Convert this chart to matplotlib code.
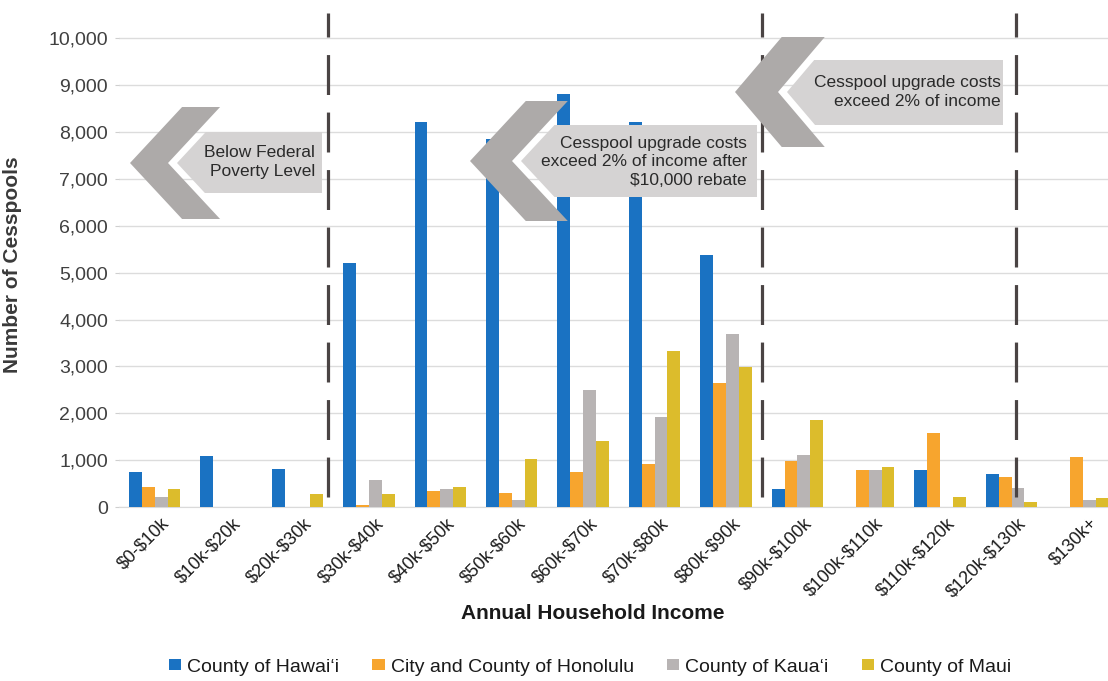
import matplotlib
matplotlib.use('Agg')
import matplotlib.pyplot as plt
import numpy as np
from matplotlib.patches import Polygon
from matplotlib.ticker import FuncFormatter
import matplotlib.transforms as mtransforms

# ---------------- data ----------------
categories = ['$0-$10k', '$10k-$20k', '$20k-$30k', '$30k-$40k', '$40k-$50k',
              '$50k-$60k', '$60k-$70k', '$70k-$80k', '$80k-$90k', '$90k-$100k',
              '$100k-$110k', '$110k-$120k', '$120k-$130k', '$130k+']
hawaii = [750, 1080, 820, 5200, 8210, 7850, 8810, 8220, 5370, 375, 0, 780, 700, 0]
honolulu = [430, 0, 0, 50, 350, 305, 750, 925, 2640, 975, 785, 1580, 645, 1070]
kauai = [220, 0, 0, 575, 375, 160, 2490, 1920, 3690, 1100, 790, 0, 400, 140]
maui = [375, 0, 270, 270, 430, 1030, 1400, 3320, 2980, 1850, 855, 220, 100, 200]
series_names = ["County of Hawai\u02bbi", "City and County of Honolulu",
                "County of Kaua\u02bbi", "County of Maui"]
y_ticks = list(range(0, 10001, 1000))
divider_positions = [2.42, 8.5, 12.06]
annotation_texts = ["Below Federal\nPoverty Level",
                    "Cesspool upgrade costs\nexceed 2% of income after\n$10,000 rebate",
                    "Cesspool upgrade costs\nexceed 2% of income"]

# ---------------- style ----------------
plt.rcParams['font.family'] = ['Liberation Sans', 'DejaVu Sans']
colors = ['#1a72c2', '#f7a52e', '#b8b4b4', '#dcbc2c']
W, H = 1108, 681

fig = plt.figure(figsize=(W / 100, H / 100), dpi=100)
fig.patch.set_facecolor('white')

ax_left, ax_right, ax_bottom, ax_top = 119, 1108, 507, 12.5
ax = fig.add_axes([ax_left / W, 1 - ax_bottom / H, (ax_right - ax_left) / W,
                   (ax_bottom - ax_top) / H])

series = [hawaii, honolulu, kauai, maui]
x = np.arange(len(categories))
bw = 0.18
for i, (vals, name, c) in enumerate(zip(series, series_names, colors)):
    ax.bar(x + (i - 1.5) * bw, vals, width=bw, color=c, label=name, zorder=3)

ax.set_xlim(-0.5, 13.35)
ax.set_ylim(0, 10550)
ax.set_yticks(y_ticks)
ax.yaxis.set_major_formatter(FuncFormatter(lambda v, p: f'{int(v):,}'))
ax.grid(axis='y', color='#dcdcdc', linewidth=1.0, zorder=0)
ax.set_axisbelow(True)
for s in ['top', 'right', 'left']:
    ax.spines[s].set_visible(False)
ax.spines['bottom'].set_color('#dadada')
ax.tick_params(axis='y', length=3, color='#cfcfcf', labelsize=14,
               labelcolor='#404040', pad=5)
ax.tick_params(axis='x', length=0, labelsize=13, labelcolor='#1a1a1a', pad=10)

ax.set_xticks(x)
ax.set_xticklabels([c.replace('$', r'\$') for c in categories], rotation=45,
                   ha='right', va='center', rotation_mode='anchor')
offset = mtransforms.ScaledTranslation(12 / 100, 0, fig.dpi_scale_trans)
for lab in ax.get_xticklabels():
    lab.set_transform(lab.get_transform() + offset)

ax.set_xlabel('Annual Household Income', fontsize=15, fontweight='bold',
              color='#1a1a1a')
ax.xaxis.set_label_coords((593 - ax_left) / (ax_right - ax_left),
                          (ax_bottom - 604) / (ax_bottom - ax_top))
ax.set_ylabel('Number of Cesspools', fontsize=15, fontweight='bold',
              color='#3a3a3a')
ax.yaxis.set_label_coords((22 - ax_left) / (ax_right - ax_left),
                          (ax_bottom - 265) / (ax_bottom - ax_top))

# dashed dividers
for xp in divider_positions:
    ax.axvline(xp, ymin=0.02, ymax=1.0, color='#4a4444', linewidth=2.3,
               linestyle=(0, (12.5, 5.5)), zorder=4)

# ---------------- annotation arrows (figure pixel coords) ----------------
def fpt(px, py):
    return (px / W, 1 - py / H)

def arrow(tip_x, tip_y, half_h, slope, thick, band_top, band_bot, band_right, gap=9):
    dx = slope * half_h
    chev = [(tip_x, tip_y), (tip_x + dx, tip_y - half_h),
            (tip_x + dx + thick, tip_y - half_h), (tip_x + thick, tip_y),
            (tip_x + dx + thick, tip_y + half_h), (tip_x + dx, tip_y + half_h)]
    fig.patches.append(Polygon([fpt(*p) for p in chev], closed=True,
                               transform=fig.transFigure, facecolor='#adaaa9',
                               edgecolor='none', zorder=5))
    bx = tip_x + thick + gap
    band = [(bx, tip_y), (bx + slope * (tip_y - band_top), band_top),
            (band_right, band_top), (band_right, band_bot),
            (bx + slope * (band_bot - tip_y), band_bot)]
    fig.patches.append(Polygon([fpt(*p) for p in band], closed=True,
                               transform=fig.transFigure, facecolor='#d5d3d3',
                               edgecolor='none', zorder=5))

arrow(130, 163, 56, 0.93, 38, 132, 193, 322)
arrow(470, 161, 60, 0.93, 42, 125, 197, 757)
arrow(735, 92, 55, 0.85, 43, 60, 125, 1003)

text_kw = dict(fontsize=12.5, color='#2a2a2a', ha='right', va='center',
               linespacing=1.3, zorder=6)
fig.text(*fpt(315, 162), annotation_texts[0], **text_kw)
fig.text(*fpt(747, 162), annotation_texts[1].replace('$', r'\$'), **text_kw)
fig.text(*fpt(1001, 92), annotation_texts[2], **text_kw)

# ---------------- legend ----------------
fig.legend(loc='center', bbox_to_anchor=fpt(590, 667), ncol=4, frameon=False,
           fontsize=14, handlelength=0.65, handleheight=0.45, handletextpad=0.3,
           columnspacing=1.7, labelcolor='#1a1a1a')

fig.savefig('out.png', dpi=100, facecolor='white')
